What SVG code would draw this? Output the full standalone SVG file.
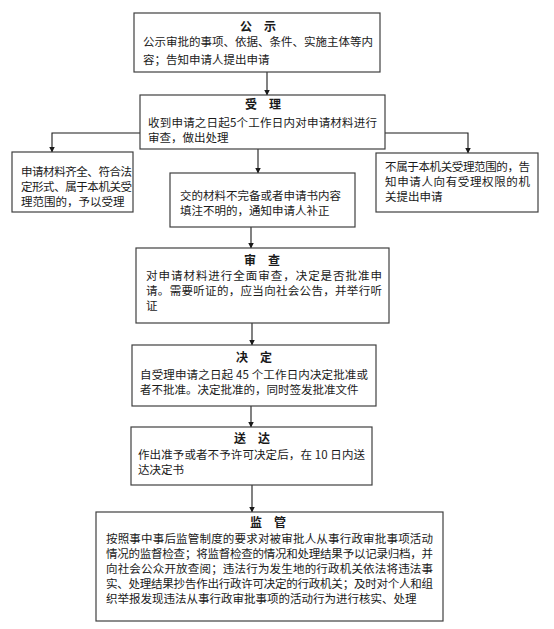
<svg xmlns="http://www.w3.org/2000/svg" width="554" height="629" viewBox="0 0 554 629">
<style>
.box{fill:#fff;stroke:#404040;stroke-width:1.2}
.t{font-family:"Noto Sans CJK SC","Noto Sans",sans-serif;font-size:11.5px;fill:#1a1a1a}
.h{font-family:"Noto Sans CJK SC","Noto Sans",sans-serif;font-size:12px;font-weight:bold;fill:#1a1a1a;text-anchor:middle}
.ln{fill:none;stroke:#1a1a1a;stroke-width:1.1;marker-end:url(#ah)}
</style>
<defs>
<marker id="ah" markerWidth="6" markerHeight="7" refX="5.5" refY="3.5" orient="auto" markerUnits="userSpaceOnUse">
<path d="M0,0.5 L6,3.5 L0,6.5 Z" fill="#1a1a1a"/>
</marker>
</defs>
<rect width="554" height="629" fill="#fff"/>
<g id="connectors">
<path class="ln" d="M267,72 V95"/>
<path class="ln" d="M258,149 V173"/>
<path class="ln" d="M140,133 H52 V152"/>
<path class="ln" d="M385,133 H468 V153"/>
<path class="ln" d="M251,227 V248"/>
<path class="ln" d="M252,323 V345"/>
<path class="ln" d="M251,406 V427"/>
<path class="ln" d="M252,485 V512"/>
</g>
<g id="n-gongshi">
<rect class="box" x="134" y="13" width="246" height="59"/>
<text class="h" x="258" y="31">公　示</text>
<text class="t" x="143" y="46" textLength="230" lengthAdjust="spacing">公示审批的事项、依据、条件、实施主体等内</text>
<text class="t" x="143" y="64">容；告知申请人提出申请</text>
</g>
<g id="n-shouli">
<rect class="box" x="140" y="95" width="245" height="54"/>
<text class="h" x="263" y="109">受　理</text>
<text class="t" x="148" y="127" textLength="229" lengthAdjust="spacing">收到申请之日起5个工作日内对申请材料进行</text>
<text class="t" x="148" y="142">审查，做出处理</text>
</g>
<g id="n-left">
<rect class="box" x="12" y="152" width="121" height="60"/>
<text class="t" x="21" y="176" textLength="111" lengthAdjust="spacing">申请材料齐全、符合法</text>
<text class="t" x="21" y="191" textLength="111" lengthAdjust="spacing">定形式、属于本机关受</text>
<text class="t" x="21" y="206">理范围的，予以受理</text>
</g>
<g id="n-middle">
<rect class="box" x="170" y="173" width="185" height="54"/>
<text class="t" x="180" y="200">交的材料不完备或者申请书内容</text>
<text class="t" x="180" y="215">填注不明的，通知申请人补正</text>
</g>
<g id="n-right">
<rect class="box" x="376" y="153" width="162" height="59"/>
<text class="t" x="385" y="171" textLength="145" lengthAdjust="spacing">不属于本机关受理范围的，告</text>
<text class="t" x="385" y="186" textLength="145" lengthAdjust="spacing">知申请人向有受理权限的机</text>
<text class="t" x="385" y="201">关提出申请</text>
</g>
<g id="n-shencha">
<rect class="box" x="136" y="248" width="253" height="75"/>
<text class="h" x="262" y="265">审　查</text>
<text class="t" x="146" y="280" textLength="236" lengthAdjust="spacing">对申请材料进行全面审查，决定是否批准申</text>
<text class="t" x="146" y="295" textLength="236" lengthAdjust="spacing">请。需要听证的，应当向社会公告，并举行听</text>
<text class="t" x="146" y="310">证</text>
</g>
<g id="n-jueding">
<rect class="box" x="132" y="345" width="244" height="61"/>
<text class="h" x="254" y="362">决　定</text>
<text class="t" x="140" y="379" textLength="228" lengthAdjust="spacing">自受理申请之日起 45 个工作日内决定批准或</text>
<text class="t" x="140" y="394">者不批准。决定批准的，同时签发批准文件</text>
</g>
<g id="n-songda">
<rect class="box" x="131" y="427" width="241" height="58"/>
<text class="h" x="252" y="443">送　达</text>
<text class="t" x="138" y="459" textLength="227" lengthAdjust="spacing">作出准予或者不予许可决定后，在 10 日内送</text>
<text class="t" x="138" y="474">达决定书</text>
</g>
<g id="n-jianguan">
<rect class="box" x="96" y="512" width="347" height="109"/>
<text class="h" x="268" y="527">监　管</text>
<text class="t" x="106" y="543" textLength="327" lengthAdjust="spacing">按照事中事后监管制度的要求对被审批人从事行政审批事项活动</text>
<text class="t" x="106" y="558" textLength="327" lengthAdjust="spacing">情况的监督检查；将监督检查的情况和处理结果予以记录归档，并</text>
<text class="t" x="106" y="573" textLength="327" lengthAdjust="spacing">向社会公众开放查阅；违法行为发生地的行政机关依法将违法事</text>
<text class="t" x="106" y="588" textLength="327" lengthAdjust="spacing">实、处理结果抄告作出行政许可决定的行政机关；及时对个人和组</text>
<text class="t" x="106" y="603">织举报发现违法从事行政审批事项的活动行为进行核实、处理</text>
</g>
</svg>
